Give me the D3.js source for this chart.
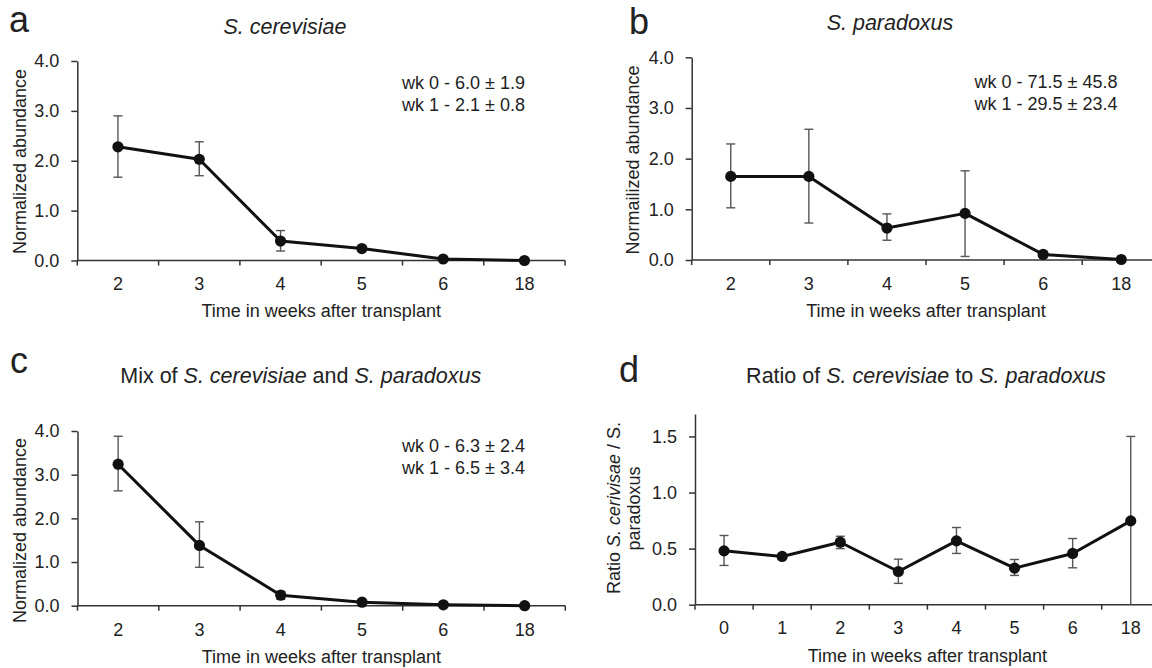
<!DOCTYPE html>
<html>
<head>
<meta charset="utf-8">
<script src="https://cdn.jsdelivr.net/npm/d3@7/dist/d3.min.js"></script>
<style>
  html, body { margin: 0; padding: 0; background: #fff; }
  svg { display: block; }
  text { font-family: "Liberation Sans", Arial, Helvetica, sans-serif; fill: #222; }
</style>
</head>
<body>
<svg id="fig" width="1152" height="668"></svg>
<script>
// ---- data -------------------------------------------------------------
const weeksSix = ["2", "3", "4", "5", "6", "18"];
const weeksEight = ["0", "1", "2", "3", "4", "5", "6", "18"];

const abundanceTicks = [0, 1, 2, 3, 4];
const ratioTicks = [0, 0.5, 1.0, 1.5];

// a: S. cerevisiae
const cerMean = [2.28, 2.03, 0.39, 0.24, 0.03, 0.00];
const cerLow  = [1.67, 1.70, 0.19, 0.24, 0.03, 0.00];
const cerHigh = [2.90, 2.38, 0.60, 0.24, 0.03, 0.00];

// b: S. paradoxus
const parMean = [1.65, 1.65, 0.63, 0.92, 0.11, 0.01];
const parLow  = [1.03, 0.73, 0.39, 0.07, 0.06, 0.01];
const parHigh = [2.29, 2.58, 0.91, 1.76, 0.17, 0.01];

// c: mix of both species
const mixMean = [3.24, 1.38, 0.24, 0.08, 0.02, 0.00];
const mixLow  = [2.63, 0.88, 0.15, 0.08, 0.02, 0.00];
const mixHigh = [3.88, 1.92, 0.33, 0.08, 0.02, 0.00];

// d: ratio S. cerevisiae / S. paradoxus
const ratioMean = [0.48, 0.43, 0.557, 0.296, 0.569, 0.326, 0.457, 0.747];
const ratioLow  = [0.35, 0.43, 0.50, 0.19, 0.457, 0.261, 0.329, 0.00];
const ratioHigh = [0.617, 0.43, 0.61, 0.406, 0.688, 0.403, 0.59, 1.50];

const notesA = ["wk 0 - 6.0 \u00b1 1.9", "wk 1 - 2.1 \u00b1 0.8"];
const notesB = ["wk 0 - 71.5 \u00b1 45.8", "wk 1 - 29.5 \u00b1 23.4"];
const notesC = ["wk 0 - 6.3 \u00b1 2.4", "wk 1 - 6.5 \u00b1 3.4"];

// ---- drawing ----------------------------------------------------------
const svg = d3.select("#fig");
const FS = 18;

function richText(sel, parts) {
  parts.forEach(p => {
    sel.append("tspan").attr("font-style", p[1] ? "italic" : "normal").text(p[0]);
  });
}

function panel(o) {
  const g = svg.append("g");
  const x = d3.scaleBand().domain(o.cats).range([o.x0, o.x0 + o.band * o.cats.length]);
  const y = d3.scaleLinear().domain(o.yDomain).range([o.yBase, o.yTop]);

  // panel letter
  g.append("text").attr("x", o.letter[0]).attr("y", o.letter[1])
    .attr("font-size", 36).attr("fill", "#111").text(o.letter[2]);

  // title
  const t = g.append("text").attr("x", o.title[0]).attr("y", o.title[1])
    .attr("text-anchor", "middle").attr("font-size", 21.5);
  richText(t, o.title[2]);

  // y axis
  const ya = g.append("g").attr("transform", `translate(${o.x0},0)`)
    .call(d3.axisLeft(y).tickValues(o.yTicks).tickFormat(d3.format(".1f"))
      .tickSize(6).tickSizeOuter(0).tickPadding(12));
  ya.select(".domain").attr("stroke", "#333").attr("stroke-width", 1.5);
  ya.selectAll(".tick line").attr("stroke", "#333").attr("stroke-width", 1.5);
  ya.selectAll(".tick text").attr("font-size", FS).attr("fill", "#222")
    .attr("font-family", "Liberation Sans, Arial, sans-serif");

  // x axis: labels at band centres, tick marks on band edges
  const xa = g.append("g").attr("transform", `translate(0,${o.yBase})`)
    .call(d3.axisBottom(x).tickSize(0).tickSizeOuter(0).tickPadding(0));
  xa.select(".domain").remove();
  xa.selectAll(".tick text").attr("font-size", FS).attr("fill", "#222")
    .attr("dy", null).attr("y", o.tickBase - o.yBase)
    .attr("font-family", "Liberation Sans, Arial, sans-serif");
  const edges = o.cats.map(c => x(c)).concat([x.range()[1]]);
  g.append("line").attr("x1", x.range()[0]).attr("x2", x.range()[1])
    .attr("y1", o.yBase).attr("y2", o.yBase).attr("stroke", "#333").attr("stroke-width", 1.5);
  g.selectAll(null).data(edges).enter().append("line")
    .attr("x1", d => d).attr("x2", d => d)
    .attr("y1", o.yBase).attr("y2", o.yBase + 5)
    .attr("stroke", "#333").attr("stroke-width", 1.5);

  // axis titles
  g.append("text").attr("x", (x.range()[0] + x.range()[1]) / 2).attr("y", o.xTitleBase)
    .attr("text-anchor", "middle").attr("font-size", FS).text("Time in weeks after transplant");
  o.yTitle.forEach(line => {
    const yt = g.append("text")
      .attr("transform", `translate(${line[0]},${line[1]}) rotate(-90)`)
      .attr("text-anchor", "middle").attr("font-size", FS);
    richText(yt, line[2]);
  });

  // annotations
  if (o.notes) {
    o.notes.forEach((s, i) => {
      g.append("text").attr("x", o.noteX).attr("y", o.noteY[i])
        .attr("font-size", FS).text(s);
    });
  }

  const pts = o.cats.map((c, i) => ({ c, m: o.mean[i], lo: o.low[i], hi: o.high[i] }));
  const cx = d => x(d.c) + x.bandwidth() / 2;

  // error bars
  const eb = g.append("g").attr("stroke", "#555").attr("stroke-width", 1.4).attr("fill", "none");
  pts.filter(d => d.hi - d.lo > 0.001).forEach(d => {
    eb.append("line").attr("x1", cx(d)).attr("x2", cx(d)).attr("y1", y(d.lo)).attr("y2", y(d.hi));
    [d.lo, d.hi].forEach(v => {
      if (v <= o.yDomain[0] + 0.001) return;
      eb.append("line").attr("x1", cx(d) - 4.5).attr("x2", cx(d) + 4.5).attr("y1", y(v)).attr("y2", y(v));
    });
  });

  // mean line and markers
  g.append("path").datum(pts)
    .attr("d", d3.line().x(cx).y(d => y(d.m)))
    .attr("fill", "none").attr("stroke", "#111").attr("stroke-width", 3)
    .attr("stroke-linejoin", "round");
  g.selectAll(null).data(pts).enter().append("circle")
    .attr("cx", cx).attr("cy", d => y(d.m)).attr("r", 5.6).attr("fill", "#111");
}

panel({
  cats: weeksSix, mean: cerMean, low: cerLow, high: cerHigh,
  x0: 77.3, band: 81.3, yTop: 61, yBase: 260.5, yDomain: [0, 4], yTicks: abundanceTicks,
  tickBase: 290, xTitleBase: 317,
  letter: [9, 31.5, "a"],
  title: [285, 34, [["S. cerevisiae", true]]],
  yTitle: [[26, 161.5, [["Normalized abundance", false]]]],
  notes: notesA, noteX: 402, noteY: [89, 110.7]
});

panel({
  cats: weeksSix, mean: parMean, low: parLow, high: parHigh,
  x0: 691.7, band: 78.1, yTop: 57.3, yBase: 260, yDomain: [0, 4], yTicks: abundanceTicks,
  tickBase: 290, xTitleBase: 317,
  letter: [629, 34, "b"],
  title: [890, 29.5, [["S. paradoxus", true]]],
  yTitle: [[639, 160, [["Normailized abundance", false]]]],
  notes: notesB, noteX: 974.5, noteY: [88.3, 110]
});

panel({
  cats: weeksSix, mean: mixMean, low: mixLow, high: mixHigh,
  x0: 77.5, band: 81.3, yTop: 431, yBase: 605.7, yDomain: [0, 4], yTicks: abundanceTicks,
  tickBase: 636.3, xTitleBase: 663,
  letter: [10, 373, "c"],
  title: [300.7, 383, [["Mix of ", false], ["S. cerevisiae", true], [" and ", false], ["S. paradoxus", true]]],
  yTitle: [[26, 530.5, [["Normalized abundance", false]]]],
  notes: notesC, noteX: 402, noteY: [452, 474.3]
});

panel({
  cats: weeksEight, mean: ratioMean, low: ratioLow, high: ratioHigh,
  x0: 695, band: 58.1, yTop: 414, yBase: 604.7, yDomain: [0, 1.7], yTicks: ratioTicks,
  tickBase: 634, xTitleBase: 662,
  letter: [619, 382, "d"],
  title: [926, 383, [["Ratio of ", false], ["S. cerevisiae", true], [" to ", false], ["S. paradoxus", true]]],
  yTitle: [
    [620, 508, [["Ratio ", false], ["S. cerivisae", true], [" / S.", false]]],
    [639.5, 508.5, [["paradoxus", false]]]
  ]
});
</script>
</body>
</html>
